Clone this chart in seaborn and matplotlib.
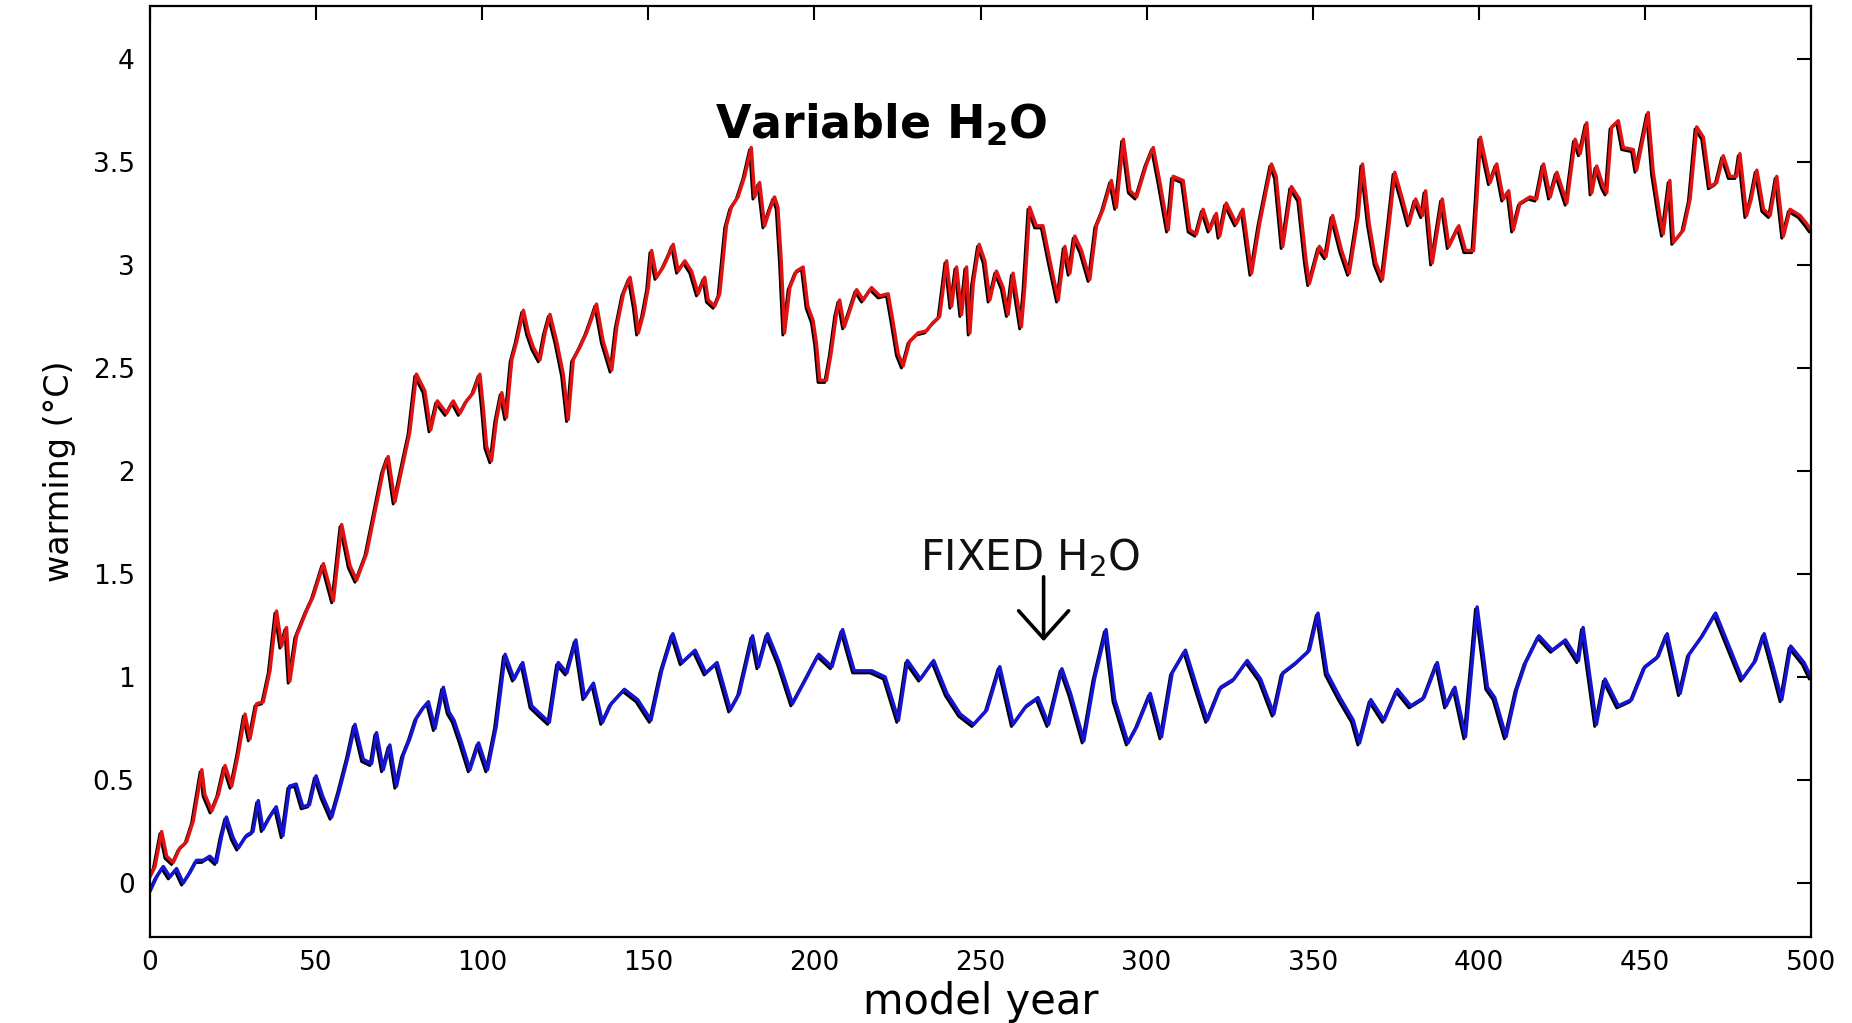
import matplotlib
matplotlib.use("Agg")
import matplotlib.pyplot as plt
import matplotlib.transforms as mtransforms
import seaborn as sns
import numpy as np

# ---- data ----
red_years = [0, 1.5, 3.5, 5.0, 7.0, 9.0, 11.0, 13.0, 15.6, 16.5, 18.6, 20.6, 22.6, 24.6, 26.6, 28.6,
             30.1, 32.1, 34.1, 36.1, 38.1, 39.6, 41.1, 42.1, 44.1, 47.1, 49.1, 52.2, 55.2, 57.7,
             60.2, 62.2, 65.2, 67.7, 70.2, 71.7, 73.7, 76.2, 78.2, 80.2, 82.7, 84.5, 86.5, 89.3,
             91.3, 93.3, 95.3, 97.3, 99.3, 100.3, 101.3, 102.8, 104.3, 105.9, 107.3, 108.9, 110.4,
             112.4, 113.9, 115.4, 117.4, 118.9, 120.4, 122.4, 124.4, 125.9, 127.4, 129.4, 131.4,
             133.4, 134.4, 136.4, 139.0, 140.5, 142.5, 144.5, 146.0, 147.0, 148.5, 150.0, 151.0,
             152.5, 154.5, 156.5, 157.5, 159.0, 161.0, 163.0, 165.0, 167.0, 168.0, 170.0, 171.5,
             173.5, 175.0, 177.0, 179.0, 181.0, 182.0, 183.5, 185.0, 186.6, 188.0, 189.0, 190.0,
             191.0, 192.6, 194.6, 196.6, 198.0, 199.6, 200.6, 201.6, 203.6, 205.0, 206.6, 207.6,
             209.0, 210.7, 212.7, 214.7, 217.2, 219.7, 222.2, 223.7, 225.2, 226.7, 228.7, 231.2,
             233.7, 235.7, 237.7, 239.8, 241.3, 242.8, 244.3, 245.8, 246.8, 247.8, 249.6, 251.3,
             252.8, 254.8, 256.8, 258.3, 259.8, 262.3, 263.3, 264.8, 266.8, 268.8, 270.9, 273.4,
             275.4, 276.9, 278.4, 280.4, 282.9, 284.9, 286.9, 289.4, 290.9, 293.0, 295, 297, 300,
             302, 304, 306.5, 308, 311, 313, 315, 317, 319, 321, 322, 324, 327, 329, 331.6, 334,
             336, 337.6, 339, 341, 343.6, 346, 348, 349, 352, 354, 356, 358.7, 361, 363.7, 365,
             367, 369, 371, 373, 374.7, 377, 379, 381, 383, 384, 386, 389, 391, 394, 396, 398.4,
             399.4, 400.5, 403.4, 405.4, 407.4, 409, 410.4, 412.4, 415.4, 417.4, 419.5, 421.5,
             423.5, 426.5, 429, 430.5, 432.5, 434, 435.5, 437.5, 438.5, 440, 442, 443.5, 446.5,
             447.5, 449.5, 451, 452.5, 454.5, 455.5, 457.5, 458.6, 461.6, 463.6, 465.6, 467.6,
             469.6, 471.6, 473.6, 475.6, 477.6, 478.6, 480.6, 482, 483.7, 485.7, 487.7, 489.7,
             491.7, 493.7, 496.7, 498.7, 500]
red_vals = [0.03, 0.08, 0.25, 0.13, 0.10, 0.17, 0.20, 0.30, 0.55, 0.43, 0.35, 0.43, 0.57, 0.47, 0.63, 0.82,
            0.70, 0.87, 0.88, 1.03, 1.32, 1.15, 1.24, 0.98, 1.20, 1.32, 1.39, 1.55, 1.37, 1.74,
            1.54, 1.47, 1.60, 1.80, 2.00, 2.07, 1.85, 2.04, 2.19, 2.47, 2.39, 2.20, 2.34, 2.28,
            2.34, 2.28, 2.34, 2.38, 2.47, 2.31, 2.12, 2.05, 2.25, 2.38, 2.26, 2.54, 2.63,
            2.78, 2.67, 2.60, 2.54, 2.67, 2.76, 2.63, 2.47, 2.25, 2.54, 2.60, 2.67,
            2.76, 2.81, 2.63, 2.49, 2.70, 2.86, 2.94, 2.80, 2.67, 2.76, 2.89, 3.07,
            2.94, 2.99, 3.06, 3.10, 2.97, 3.02, 2.97, 2.86, 2.94, 2.83, 2.80, 2.86,
            3.19, 3.28, 3.33, 3.43, 3.57, 3.33, 3.40, 3.19, 3.27, 3.33, 3.28, 3.02,
            2.67, 2.89, 2.97, 2.99, 2.80, 2.73, 2.62, 2.44, 2.44, 2.57, 2.76, 2.83,
            2.70, 2.78, 2.88, 2.83, 2.89, 2.85, 2.86, 2.72, 2.57, 2.51, 2.63, 2.67,
            2.68, 2.72, 2.75, 3.02, 2.80, 2.99, 2.76, 2.99, 2.67, 2.91, 3.10, 3.02,
            2.83, 2.97, 2.89, 2.76, 2.96, 2.70, 2.89, 3.28, 3.19, 3.19, 3.02, 2.83,
            3.09, 2.96, 3.14, 3.07, 2.93, 3.19, 3.27, 3.41, 3.28, 3.61, 3.36, 3.33, 3.49,
            3.57, 3.40, 3.17, 3.43, 3.41, 3.17, 3.15, 3.27, 3.17, 3.25, 3.14, 3.30, 3.20, 3.27, 2.96, 3.20,
            3.36, 3.49, 3.43, 3.09, 3.38, 3.32, 3.02, 2.91, 3.09, 3.04, 3.24, 3.07, 2.96, 3.24, 3.49,
            3.20, 3.01, 2.93, 3.20, 3.45, 3.32, 3.20, 3.32, 3.24, 3.36, 3.01, 3.32, 3.09, 3.19, 3.07, 3.07,
            3.32, 3.62, 3.40, 3.49, 3.32, 3.36, 3.17, 3.30, 3.33, 3.32, 3.49, 3.33,
            3.45, 3.30, 3.61, 3.54, 3.69, 3.35, 3.48, 3.38, 3.35, 3.67, 3.70, 3.57, 3.56,
            3.46, 3.62, 3.74, 3.45, 3.24, 3.15, 3.41, 3.11, 3.17, 3.32, 3.67, 3.62,
            3.38, 3.40, 3.53, 3.43, 3.43, 3.54, 3.24, 3.32, 3.46, 3.27, 3.24, 3.43,
            3.14, 3.27, 3.24, 3.20, 3.17]

blue_years = [0, 2, 4, 6, 8, 10, 12, 14, 16, 18, 20, 21.6, 23, 25, 26.6, 29, 31, 32.6, 34, 36, 38, 40,
              42, 44, 46, 48, 50, 52, 54.7, 57, 59.7, 61.7, 64.2, 66.7, 68.2, 70.2, 72.2, 74.2, 76.2,
              78.2, 80.2, 82.2, 83.8, 85.8, 88.3, 90, 91.5, 93.6, 96.3, 98.9, 101.6, 104.2, 106.9,
              109.6, 112.2, 114.9, 117.5, 120.2, 122.9, 125.5, 128.2, 130.8, 133.5, 136.2, 138.8,
              142.8, 146.8, 150.8, 154, 157.4, 160.1, 164.1, 167.3, 170.7, 174.7, 177.4, 181.4,
              183.2, 185.9, 189.4, 193.4, 197.4, 201.3, 205.3, 208.5, 212, 217.3, 221.3, 225.3,
              228, 231.9, 235.9, 239.9, 243.9, 247.9, 251.9, 255.8, 259.8, 263.8, 267.3, 270.5,
              274.5, 277.1, 281.1, 284.3, 287.8, 290.4, 294.4, 297.1, 301.1, 304.5, 307.7, 311.7,
              315.7, 318.3, 322.3, 326.3, 330.3, 334.3, 338.3, 341, 345, 349, 351.6, 354.3, 358.2,
              362.2, 364.1, 367.5, 371.5, 375.5, 379.5, 383.5, 387.5, 390.2, 392.8, 396, 399.5,
              402.6, 404.8, 408.2, 411.4, 414.1, 418.1, 422.1, 426.1, 430, 431.4, 435.4, 438, 442,
              446, 450, 454, 456.7, 460.6, 463.3, 467.3, 471.3, 475.3, 479.3, 483.3, 485.9, 488.6,
              491.2, 493.9, 497.9, 500]
blue_vals = [-0.04, 0.03, 0.08, 0.03, 0.07, 0.00, 0.05, 0.11, 0.11, 0.13, 0.10, 0.23, 0.32, 0.22, 0.17,
             0.23, 0.25, 0.40, 0.26, 0.32, 0.37, 0.23, 0.47, 0.48, 0.37, 0.38, 0.52, 0.42, 0.32, 0.45,
             0.62, 0.77, 0.60, 0.58, 0.73, 0.55, 0.67, 0.47, 0.62, 0.70, 0.80, 0.85, 0.88, 0.75, 0.95,
             0.83, 0.79, 0.69, 0.55, 0.68, 0.55, 0.76, 1.11, 0.99, 1.07, 0.86, 0.82, 0.78, 1.07, 1.02,
             1.18, 0.90, 0.97, 0.78, 0.87, 0.94, 0.89, 0.79, 1.03, 1.21, 1.07, 1.13, 1.02, 1.07, 0.84,
             0.92, 1.20, 1.05, 1.21, 1.07, 0.87, 0.99, 1.11, 1.05, 1.23, 1.03, 1.03, 1.00, 0.79, 1.08,
             0.99, 1.08, 0.92, 0.82, 0.77, 0.84, 1.05, 0.77, 0.86, 0.90, 0.77, 1.04, 0.92, 0.69, 0.99,
             1.23, 0.89, 0.68, 0.76, 0.92, 0.71, 1.02, 1.13, 0.92, 0.79, 0.95, 0.99, 1.08, 0.99, 0.82,
             1.02, 1.07, 1.13, 1.31, 1.02, 0.90, 0.79, 0.68, 0.89, 0.79, 0.94, 0.86, 0.90, 1.07, 0.86,
             0.95, 0.71, 1.34, 0.95, 0.90, 0.71, 0.94, 1.07, 1.20, 1.13, 1.18, 1.08, 1.24, 0.77, 0.99,
             0.86, 0.89, 1.05, 1.10, 1.21, 0.92, 1.11, 1.20, 1.31, 1.15, 0.99, 1.08, 1.21, 1.05, 0.89,
             1.15, 1.07, 1.00]

x_ticks = [0, 50, 100, 150, 200, 250, 300, 350, 400, 450, 500]
y_ticks = [0, 0.5, 1, 1.5, 2, 2.5, 3, 3.5, 4]
y_tick_labels = ["0", "0.5", "1", "1.5", "2", "2.5", "3", "3.5", "4"]

RED = "#e01313"
BLUE = "#1414d2"

sns.set_theme(style="white")
plt.rcParams["font.family"] = ["DejaVu Sans"]

fig = plt.figure(figsize=(18.52, 10.23), dpi=100)
ax = fig.add_axes([150 / 1852, 1 - 937 / 1023, (1811 - 150) / 1852, (937 - 6) / 1023])

# black companion runs drawn under the colored ones (slightly offset)
shadow = mtransforms.offset_copy(ax.transData, fig=fig, x=-1.2, y=-1.5, units="points")
for xs, ys, col in [(red_years, red_vals, RED), (blue_years, blue_vals, BLUE)]:
    sns.lineplot(x=xs, y=ys, ax=ax, color="black", linewidth=2.1, estimator=None,
                 transform=shadow, legend=False)
    sns.lineplot(x=xs, y=ys, ax=ax, color=col, linewidth=2.5, estimator=None, legend=False)

ax.set_xlim(0, 500)
ax.set_ylim(-0.262, 4.257)
ax.set_xticks(x_ticks)
ax.set_xticklabels([str(t) for t in x_ticks])
ax.set_yticks(y_ticks)
ax.set_yticklabels(y_tick_labels)
ax.tick_params(axis="both", which="major", direction="in", length=10, width=1.5,
               top=True, right=True, labelsize=19, colors="black")
ax.tick_params(axis="x", pad=9)
ax.tick_params(axis="y", pad=11)
for s in ax.spines.values():
    s.set_color("black")
    s.set_linewidth(1.6)

ax.set_xlabel("model year", fontsize=30, labelpad=4, color="black")
ax.set_ylabel("warming (°C)", fontsize=24, labelpad=12, color="black")

ax.text(220, 3.68, r"Variable H$_{\mathbf{2}}$O", fontsize=33, fontweight="bold",
        ha="center", va="center", color="black")
ax.text(265, 1.58, r"FIXED H$_2$O", fontsize=30, ha="center", va="center", color="#111111")
ax.annotate("", xy=(269, 1.16), xytext=(269, 1.50),
            arrowprops=dict(arrowstyle="->,head_length=0.5,head_width=0.45", lw=2.6,
                            color="black", mutation_scale=40))

fig.savefig("out.png", dpi=100, facecolor="white")
